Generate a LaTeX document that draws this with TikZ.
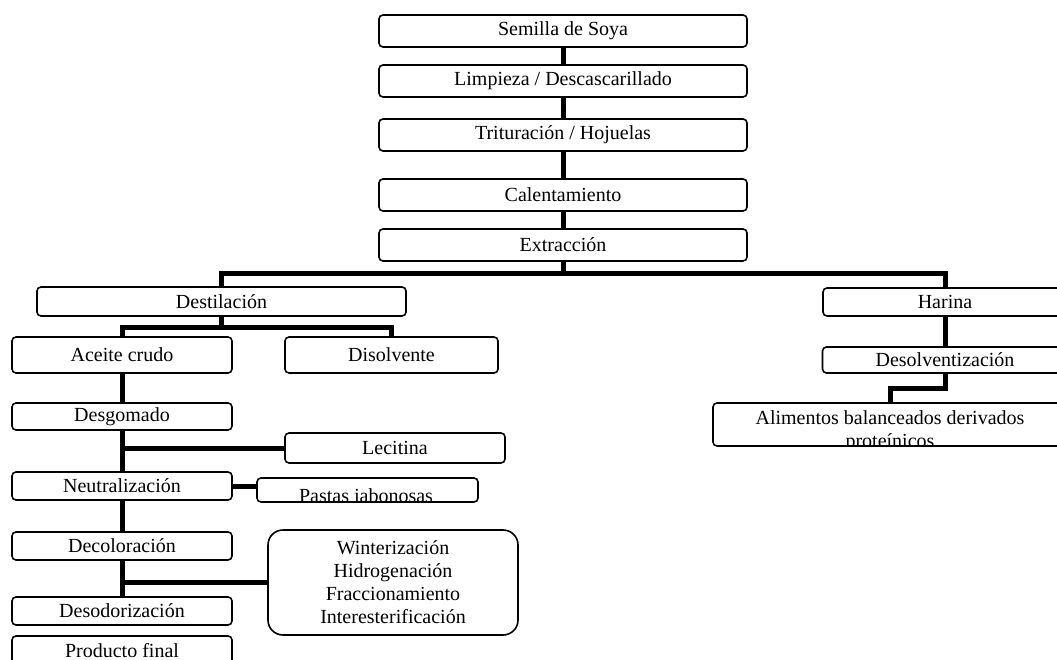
\documentclass[tikz,border=0pt]{standalone}
\usepackage{fontspec}
\setmainfont{Liberation Serif}
\usetikzlibrary{positioning,calc}
\tikzset{
  caja/.style={draw=black,fill=white,line width=1.6pt,rounded corners=4pt,align=center,
               minimum height=32pt,inner sep=0pt,font=\fontsize{20}{23}\selectfont},
  col/.style={caja,minimum width=220pt,minimum height=28pt},
  lin/.style={line width=5pt,black},
  txt/.style={inner sep=0pt,align=center,font=\fontsize{20}{23}\selectfont},
}
\begin{document}
\begin{tikzpicture}[x=1pt,y=-1pt]
  \clip (0,0) rectangle (1057,660);
  % columna central
  \node[caja,minimum width=368pt] (semilla) at (563,31) {Semilla de Soya};
  \node[caja,minimum width=368pt] (limpieza) at (563,81) {Limpieza / Descascarillado};
  \node[caja,minimum width=368pt] (trituracion) at (563,135) {Trituración / Hojuelas};
  \node[caja,minimum width=368pt] (calentamiento) at (563,195) {Calentamiento};
  \node[caja,minimum width=368pt] (extraccion) at (563,245) {Extracción};
  \draw[lin] (semilla) -- (limpieza);
  \draw[lin] (limpieza) -- (trituracion);
  \draw[lin] (trituracion) -- (calentamiento);
  \draw[lin] (calentamiento) -- (extraccion);
  % ramas
  \node[caja,minimum width=369pt,minimum height=29pt] (destilacion) at (221.5,301.5) {Destilación};
  \node[caja,minimum width=244pt,minimum height=28pt] (harina) at (945,302) {Harina};
  \coordinate (b1) at (563,274);
  \draw[lin] (extraccion) -- (b1);
  \draw[lin] (destilacion.north) |- (b1) -| (harina.north);
  % aceite
  \node[col,minimum height=36pt] (aceite) at (122,355) {Aceite crudo};
  \node[caja,minimum width=213pt,minimum height=36pt] (disolvente) at (391.5,355) {Disolvente};
  \coordinate (b2) at (221.5,327);
  \draw[lin] (destilacion) -- (b2);
  \draw[lin] (aceite.north) |- (b2) -| (disolvente.north);
  \node[col,minimum height=27pt] (desgomado) at (122,416.5) {Desgomado};
  \node[caja,minimum width=220pt,minimum height=30pt] (lecitina) at (395,448) {Lecitina};
  \node[col] (neutralizacion) at (122,486) {Neutralización};
  \node[caja,minimum width=221pt,minimum height=24pt] (pastas) at (367.5,490) {};
  \begin{scope}
    \clip (pastas.south west) rectangle (pastas.north east);
    \node[txt,anchor=north] (pastastxt) at (366,488) {Pastas jabonosas};
  \end{scope}
  \node[col] (decoloracion) at (122,546) {Decoloración};
  \node[caja,minimum width=250pt,minimum height=105pt,rounded corners=15pt] (procesos) at (393,582.5)
    {Winterización\\Hidrogenación\\Fraccionamiento\\Interesterificación};
  \node[col] (desodorizacion) at (122,611) {Desodorización};
  \node[col,minimum height=30pt] (producto) at (122,651) {Producto final};
  \draw[lin] (aceite) -- (desgomado);
  \draw[lin] (desgomado) -- (neutralizacion);
  \draw[lin] (desgomado.south |- lecitina.west) -- (lecitina.west);
  \draw[lin] (neutralizacion.east) -- (neutralizacion.east -| pastas.west);
  \draw[lin] (neutralizacion) -- (decoloracion);
  \draw[lin] (decoloracion) -- (desodorizacion);
  \draw[lin] (decoloracion.south |- procesos.west) -- (procesos.west);
  % harina
  \node[caja,minimum width=245pt,minimum height=26pt] (desolventizacion) at (945,360) {Desolventización};
  \node[caja,minimum width=354pt,minimum height=43pt] (alimentos) at (890,424.5) {};
  \begin{scope}
    \clip (alimentos.south west) rectangle (alimentos.north east);
    \node[txt,anchor=north] (alimentostxt) at (890,410) {Alimentos balanceados derivados\\proteínicos};
  \end{scope}
  \draw[lin] (harina) -- (desolventizacion);
  \draw[lin] (desolventizacion.south) -- ++(0,15) -| (alimentos.north);
\end{tikzpicture}
\end{document}
